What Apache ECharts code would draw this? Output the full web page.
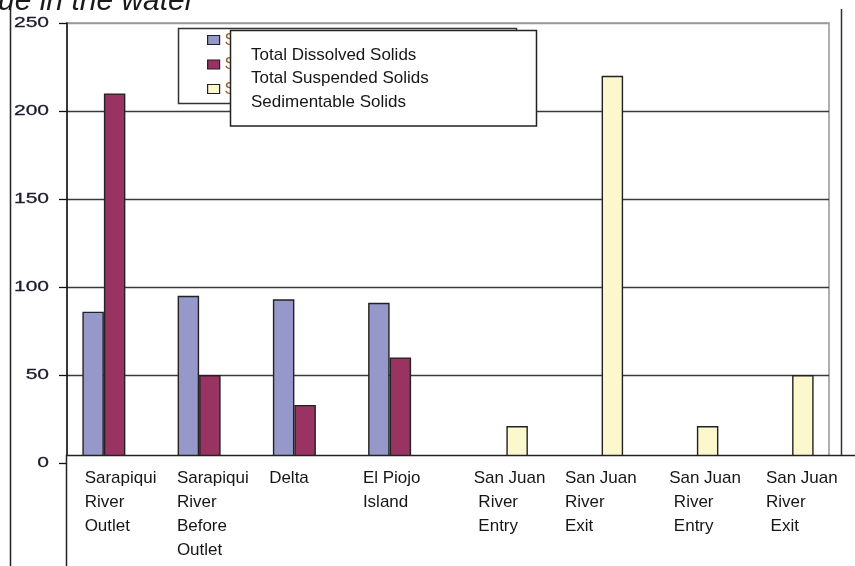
<!DOCTYPE html>
<html>
<head>
<meta charset="utf-8">
<script src="https://cdn.jsdelivr.net/npm/echarts@6/dist/echarts.min.js"></script>
<style>
  html, body { margin: 0; padding: 0; background: #fff; }
  #chart { width: 855px; height: 566px; }
</style>
</head>
<body>
<div id="chart"></div>
<script>
// Sampling sites along the Sarapiqui and San Juan rivers
const categories = [
  'Sarapiqui\nRiver\nOutlet',
  'Sarapiqui\nRiver\nBefore\nOutlet',
  'Delta',
  'El Piojo\nIsland',
  'San Juan\n River\n Entry',
  'San Juan\nRiver\nExit',
  'San Juan\n River\n Entry',
  'San Juan\nRiver\n Exit'
];

const seriesNames = ['Total Dissolved Solids', 'Total Suspended Solids', 'Sedimentable Solids'];
const legendNames = ['Sólidos Totales Disueltos', 'Sólidos Suspendidos Totales', 'Sólidos Sedimentables'];

const dissolved    = [86, 95, 93, 91, null, null, null, null];
const suspended    = [210, 50, 33, 60, null, null, null, null];
const sedimentable = [null, null, null, null, 21, 220, 21, 50];

const yTicks = [0, 50, 100, 150, 200, 250];
const titleText = 'ue in the water';

// horizontal nudge of each category label from its category centre
const labelShift = [-30, -33, -36, -37.5, -22, -26, -17, -15.5];

const FONT = "'Liberation Sans', Arial, sans-serif";
const colors = ['#9598c9', '#993362', '#fbf8cd'];

const chart = echarts.init(document.getElementById('chart'), null, { renderer: 'canvas' });

const barStyle = (c) => ({ color: c, borderColor: '#222', borderWidth: 1.4 });

chart.setOption({
  animation: false,
  backgroundColor: '#fff',
  grid: {
    left: 67, right: 26, top: 23, bottom: 103,
    show: true, borderColor: '#b0b0b0', borderWidth: 2, backgroundColor: 'transparent'
  },
  legend: {
    orient: 'vertical',
    left: 207, top: 31.5,
    padding: 0,
    itemWidth: 12, itemHeight: 9, itemGap: 7.5,
    icon: 'rect',
    itemStyle: { borderColor: '#222', borderWidth: 1.2 },
    data: seriesNames,
    formatter: (name) => legendNames[seriesNames.indexOf(name)],
    textStyle: { fontFamily: FONT, fontSize: 17, color: '#9a5a30' },
    selectedMode: false
  },
  xAxis: {
    type: 'category',
    data: categories,
    axisLine: { show: false },
    axisTick: { show: false },
    axisLabel: { show: false },
    splitLine: { show: false }
  },
  yAxis: {
    type: 'value',
    min: 0, max: 250, interval: 50,
    axisLine: { show: true, lineStyle: { color: '#111', width: 1.5 } },
    axisTick: { show: true, inside: false, length: 8, lineStyle: { color: '#111', width: 1.3 } },
    axisLabel: { show: false },
    splitLine: { show: true, lineStyle: { color: ['#3a3a3a', '#3a3a3a', '#3a3a3a', '#3a3a3a', '#3a3a3a', '#9a9a9a'], width: 1.4 } }
  },
  series: [
    { name: seriesNames[0], type: 'bar', data: dissolved, barWidth: 21.5, barGap: '0%', itemStyle: barStyle(colors[0]) },
    { name: seriesNames[1], type: 'bar', data: suspended, barWidth: 21.5, barGap: '0%', itemStyle: barStyle(colors[1]) },
    { name: seriesNames[2], type: 'bar', data: sedimentable, barWidth: 21.5, barGap: '0%', itemStyle: barStyle(colors[2]) }
  ]
});

// Overlays: page frame, category label panel, legend boxes, title and tick labels
const els = [];

els.push({
  type: 'text', x: -2, y: 2, z: 60,
  style: { text: titleText, font: "italic 30px " + FONT, fill: '#1a1a1a', textVerticalAlign: 'middle' }
});

els.push({ type: 'line', z: 60, shape: { x1: 10.5, y1: 9, x2: 10.5, y2: 566 }, style: { stroke: '#222', lineWidth: 1.5 } });
els.push({ type: 'line', z: 60, shape: { x1: 841.5, y1: 9, x2: 841.5, y2: 455 }, style: { stroke: '#333', lineWidth: 1.5 } });

// panel holding the category names, drawn over the foot of the plot
els.push({
  type: 'rect', z: 50,
  shape: { x: 66.5, y: 455.5, width: 820, height: 200 },
  style: { fill: '#fff', stroke: '#222', lineWidth: 1.5 }
});

categories.forEach((name, i) => {
  const cx = chart.convertToPixel({ xAxisIndex: 0 }, i);
  els.push({
    type: 'text', z: 60, x: cx + labelShift[i], y: 466,
    style: {
      text: name, font: '17px ' + FONT, fill: '#161616',
      textAlign: 'left', textVerticalAlign: 'top', lineHeight: 24
    }
  });
});

// y tick labels, set in a wide face
yTicks.forEach((v) => {
  const py = chart.convertToPixel({ yAxisIndex: 0 }, v);
  els.push({
    type: 'text', z: 60, x: 49, y: py, scaleX: 1.4, scaleY: 1,
    style: { text: String(v), font: '15px ' + FONT, fill: '#1c1c2c', stroke: '#1c1c2c', lineWidth: 0.3, textAlign: 'right', textVerticalAlign: 'middle' }
  });
});

// legend frame behind the swatches
els.push({
  type: 'rect', z: 1,
  shape: { x: 178.5, y: 28.5, width: 338, height: 75 },
  style: { fill: '#fff', stroke: '#333', lineWidth: 1.5 }
});

// label card laid over the legend text
els.push({
  type: 'rect', z: 50,
  shape: { x: 230.5, y: 30.5, width: 306, height: 95.5 },
  style: { fill: '#fff', stroke: '#222', lineWidth: 1.5 }
});
seriesNames.forEach((name, i) => {
  els.push({
    type: 'text', z: 60, x: 251, y: 55 + i * 23.5,
    style: { text: name, font: '17px ' + FONT, fill: '#161616', textAlign: 'left', textVerticalAlign: 'middle' }
  });
});

chart.setOption({ graphic: { elements: els } });
</script>
</body>
</html>
